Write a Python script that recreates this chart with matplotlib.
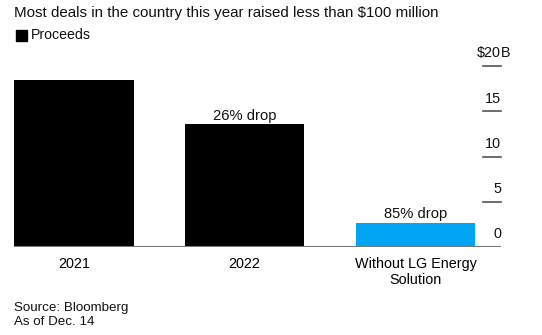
import matplotlib.pyplot as plt
import matplotlib.transforms as mtransforms
from matplotlib.patches import Rectangle

plt.rcParams['font.family'] = ['Liberation Sans', 'DejaVu Sans']

categories = ['2021', '2022', 'Without LG Energy\nSolution']
proceeds = [18.4, 13.6, 2.7]
bar_colors = ['#000000', '#000000', '#00a6f4']
notes = ['', '26% drop', '85% drop']
tick_values = [0, 5, 10, 15, 20]
tick_labels = ['0', '5', '10', '15', '$20']

fig = plt.figure(figsize=(5.42, 3.35), dpi=100)
ax = fig.add_axes([14 / 542, 88 / 335, (501 - 14) / 542, (269 - 88) / 335])

x = range(len(categories))
ax.bar(x, proceeds, width=0.7, color=bar_colors, zorder=2)
ax.axhline(0, color='#777777', linewidth=1.5, zorder=3)

for i, (v, note) in enumerate(zip(proceeds, notes)):
    if note:
        ax.annotate(note, (i, v), xytext=(0, 1), textcoords='offset points',
                    ha='center', va='bottom', fontsize=10.6, color='#111111')

ax.set_xlim(-0.35, 2.5)
ax.set_ylim(0, 20)
ax.set_xticks(list(x))
ax.set_xticklabels(categories, fontsize=10.4, linespacing=1.25)
ax.tick_params(axis='x', length=0, pad=7)
ax.set_yticks([])
for s in ax.spines.values():
    s.set_visible(False)

# right-side tick marks, labels sit above them
trans = mtransforms.blended_transform_factory(ax.transAxes, ax.transData)
for v, lab in zip(tick_values, tick_labels):
    if v > 0:
        ax.plot([1 - 18 / 487, 1.0], [v, v], transform=trans, color='#555555',
                linewidth=1.2, clip_on=False)
    ax.annotate(lab, (1.0, v), xycoords=trans, xytext=(0, 4),
                textcoords='offset points', ha='right', va='bottom',
                fontsize=10.4, color='#111111')
    if v == max(tick_values):
        ax.annotate('B', (1.0, v), xycoords=trans, xytext=(0, 4),
                    textcoords='offset points', ha='left', va='bottom',
                    fontsize=10.4, color='#111111')

fig.text(14 / 542, 1 - 13 / 335, 'Most deals in the country this year raised less than $100 million',
         fontsize=10.9, color='#111111', va='center', ha='left')
fig.patches.append(Rectangle((16 / 542, 1 - 41 / 335), 11 / 542, 11 / 335,
                             transform=fig.transFigure, color='#000000'))
fig.text(31 / 542, 1 - 35 / 335, 'Proceeds', fontsize=10.2, color='#111111', va='center', ha='left')
fig.text(14 / 542, 1 - 308 / 335, 'Source: Bloomberg', fontsize=9.6, color='#111111', va='center', ha='left')
fig.text(14 / 542, 1 - 322 / 335, 'As of Dec. 14', fontsize=9.6, color='#111111', va='center', ha='left')

fig.savefig('out.png', dpi=100)
